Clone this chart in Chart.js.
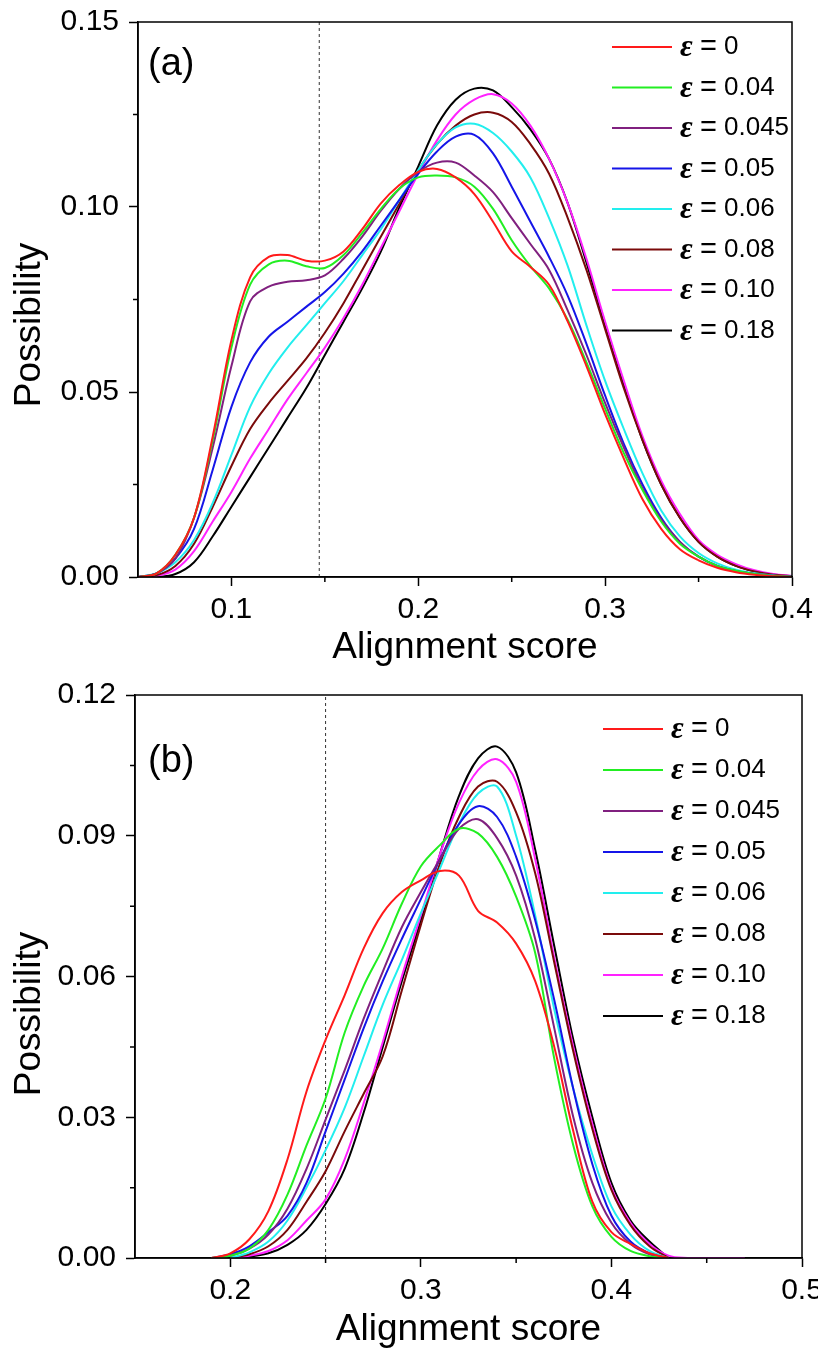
<!DOCTYPE html>
<html>
<head>
<meta charset="utf-8">
<script src="https://cdn.jsdelivr.net/npm/chart.js@4/dist/chart.umd.min.js"></script>
<style>
  html, body { margin: 0; padding: 0; background: #fff; }
  canvas { display: block; }
</style>
</head>
<body>
<canvas id="chartA" width="818" height="678"></canvas>
<canvas id="chartB" width="818" height="678"></canvas>
<script>
// ── data ──

const EPS_LABELS = ['0', '0.04', '0.045', '0.05', '0.06', '0.08', '0.10', '0.18'];
const COLORS = ['#ff1a1a', '#22ee22', '#80207f', '#1515e8', '#22eeee', '#7a0a0a', '#ff22ff', '#000000'];

// panel (a)
const A_X = [0.05, 0.06, 0.07, 0.08, 0.09, 0.10, 0.11, 0.12, 0.13, 0.14, 0.15, 0.16, 0.17, 0.18,
  0.19, 0.20, 0.21, 0.22, 0.23, 0.24, 0.25, 0.26, 0.27, 0.28, 0.29, 0.30, 0.31, 0.32, 0.33, 0.34,
  0.35, 0.36, 0.37, 0.38, 0.39, 0.40];
const A_E0    = [0, 0.001, 0.006, 0.016, 0.038, 0.064, 0.081, 0.0865, 0.087, 0.0855, 0.0855, 0.088, 0.094, 0.101, 0.106, 0.1095, 0.1103, 0.108, 0.1035, 0.096, 0.088, 0.0838, 0.079, 0.069, 0.057, 0.044, 0.032, 0.021, 0.013, 0.0075, 0.0045, 0.0025, 0.0013, 0.0006, 0.0002, 0];
const A_E004  = [0, 0.001, 0.006, 0.016, 0.037, 0.062, 0.079, 0.0845, 0.0855, 0.084, 0.0835, 0.087, 0.093, 0.0995, 0.105, 0.108, 0.1085, 0.108, 0.1055, 0.0995, 0.091, 0.084, 0.078, 0.0695, 0.058, 0.0455, 0.0335, 0.0235, 0.015, 0.009, 0.0055, 0.003, 0.0017, 0.0008, 0.0003, 0.0001];
const A_E0045 = [0, 0.001, 0.005, 0.016, 0.035, 0.057, 0.0745, 0.0785, 0.0798, 0.0802, 0.0815, 0.086, 0.092, 0.099, 0.105, 0.1095, 0.112, 0.112, 0.1085, 0.104, 0.097, 0.090, 0.083, 0.072, 0.060, 0.047, 0.035, 0.024, 0.0155, 0.0095, 0.0055, 0.003, 0.0016, 0.0008, 0.0003, 0.0001];
const A_E005  = [0, 0.001, 0.005, 0.013, 0.029, 0.046, 0.058, 0.065, 0.069, 0.073, 0.077, 0.082, 0.088, 0.095, 0.102, 0.109, 0.115, 0.119, 0.1195, 0.1145, 0.1055, 0.096, 0.0865, 0.076, 0.063, 0.049, 0.036, 0.025, 0.016, 0.0095, 0.0055, 0.003, 0.0016, 0.0008, 0.0003, 0.0001];
const A_E006  = [0, 0.001, 0.004, 0.010, 0.020, 0.033, 0.046, 0.055, 0.062, 0.068, 0.074, 0.080, 0.087, 0.094, 0.102, 0.110, 0.117, 0.1215, 0.1225, 0.120, 0.115, 0.108, 0.097, 0.084, 0.068, 0.053, 0.040, 0.028, 0.018, 0.011, 0.0065, 0.0037, 0.002, 0.001, 0.0004, 0.0001];
const A_E008  = [0, 0.0005, 0.003, 0.009, 0.019, 0.030, 0.040, 0.047, 0.053, 0.059, 0.066, 0.074, 0.083, 0.092, 0.101, 0.110, 0.117, 0.122, 0.125, 0.1255, 0.123, 0.117, 0.109, 0.097, 0.083, 0.067, 0.051, 0.037, 0.025, 0.016, 0.0095, 0.0055, 0.003, 0.0015, 0.0006, 0.0002];
const A_E010  = [0, 0.0003, 0.002, 0.007, 0.015, 0.023, 0.032, 0.040, 0.048, 0.055, 0.062, 0.070, 0.079, 0.089, 0.099, 0.109, 0.118, 0.125, 0.129, 0.1305, 0.128, 0.122, 0.113, 0.101, 0.086, 0.069, 0.053, 0.038, 0.026, 0.017, 0.010, 0.006, 0.0035, 0.0018, 0.0008, 0.0003];
const A_E018  = [0, 0, 0.0008, 0.004, 0.011, 0.019, 0.027, 0.035, 0.043, 0.051, 0.060, 0.069, 0.078, 0.088, 0.100, 0.111, 0.122, 0.129, 0.132, 0.1315, 0.127, 0.121, 0.113, 0.101, 0.085, 0.068, 0.052, 0.037, 0.025, 0.016, 0.0095, 0.0055, 0.003, 0.0015, 0.0007, 0.0002];
const A_REF = 0.147;
const A_XTICKS = [0.1, 0.2, 0.3, 0.4];
const A_XMINOR = [0.15, 0.25, 0.35];
const A_YTICKS = [0, 0.05, 0.10, 0.15];
const A_YMINOR = [0.025, 0.075, 0.125];

// panel (b)
const B_X = [0.18, 0.19, 0.20, 0.21, 0.22, 0.23, 0.24, 0.25, 0.26, 0.27, 0.28, 0.29, 0.30, 0.31,
  0.32, 0.33, 0.34, 0.35, 0.36, 0.37, 0.38, 0.39, 0.40, 0.41, 0.42, 0.43, 0.44, 0.45, 0.46, 0.47, 0.48];
const B_E0    = [null, 0, 0.001, 0.004, 0.010, 0.021, 0.0355, 0.0465, 0.056, 0.066, 0.0735, 0.078, 0.0805, 0.0825, 0.0815, 0.074, 0.0715, 0.067, 0.059, 0.045, 0.027, 0.012, 0.0055, 0.003, 0.001, 0, null, null, null, null, null];
const B_E004  = [null, 0, 0.0005, 0.002, 0.006, 0.0135, 0.024, 0.034, 0.048, 0.058, 0.066, 0.0755, 0.0835, 0.088, 0.0915, 0.0905, 0.0855, 0.077, 0.065, 0.0425, 0.024, 0.011, 0.0045, 0.0015, 0.0004, 0, null, null, null, null, null];
const B_E0045 = [null, 0, 0.0005, 0.002, 0.005, 0.0105, 0.019, 0.0295, 0.040, 0.051, 0.061, 0.0705, 0.078, 0.085, 0.0915, 0.0935, 0.0895, 0.0815, 0.068, 0.049, 0.030, 0.016, 0.0075, 0.003, 0.0008, 0, null, null, null, null, null];
const B_E005  = [null, 0, 0.0008, 0.0025, 0.0055, 0.009, 0.016, 0.027, 0.038, 0.049, 0.059, 0.068, 0.0765, 0.085, 0.0925, 0.0963, 0.094, 0.0855, 0.072, 0.055, 0.036, 0.020, 0.009, 0.0035, 0.001, 0, null, null, null, null, null];
const B_E006  = [null, null, 0, 0.0012, 0.0035, 0.008, 0.015, 0.023, 0.032, 0.043, 0.054, 0.0635, 0.0735, 0.083, 0.0925, 0.099, 0.1005, 0.090, 0.073, 0.053, 0.036, 0.022, 0.011, 0.005, 0.0015, 0, null, null, null, null, null];
const B_E008  = [null, null, 0, 0.0008, 0.0025, 0.006, 0.012, 0.0185, 0.027, 0.035, 0.043, 0.057, 0.071, 0.084, 0.094, 0.1005, 0.1015, 0.095, 0.082, 0.063, 0.044, 0.0275, 0.0145, 0.007, 0.0025, 0, null, null, null, null, null];
const B_E010  = [null, null, 0, 0.0005, 0.0015, 0.0038, 0.008, 0.0125, 0.021, 0.033, 0.046, 0.060, 0.073, 0.086, 0.097, 0.104, 0.1063, 0.1015, 0.085, 0.064, 0.045, 0.0285, 0.015, 0.0075, 0.003, 0.0005, 0, 0, 0, 0, null];
const B_E018  = [null, null, 0, 0.0003, 0.001, 0.0028, 0.006, 0.0115, 0.019, 0.031, 0.045, 0.059, 0.072, 0.086, 0.0985, 0.1065, 0.109, 0.1035, 0.087, 0.0665, 0.0465, 0.030, 0.016, 0.008, 0.0035, 0, null, null, null, null, null];
const B_REF = 0.25;
const B_XTICKS = [0.2, 0.3, 0.4, 0.5];
const B_XMINOR = [0.25, 0.35, 0.45];
const B_YTICKS = [0, 0.03, 0.06, 0.09, 0.12];
const B_YMINOR = [0.015, 0.045, 0.075, 0.105];

// ── drawing ──

const SANS = '"Liberation Sans", Arial, sans-serif';
Chart.defaults.font.family = SANS;
Chart.defaults.color = '#000';

/** frame, minor ticks, y title, panel tag and in-plot legend */
const decorPlugin = {
  id: 'decor',
  afterDraw(chart, args, opts) {
    const ctx = chart.ctx;
    const { left, right, top, bottom } = chart.chartArea;
    const sx = chart.scales.x, sy = chart.scales.y;
    ctx.save();
    ctx.strokeStyle = '#000';
    ctx.lineWidth = 1.5;
    ctx.strokeRect(left, top, right - left, bottom - top);

    // minor ticks
    ctx.beginPath();
    opts.minorX.forEach(v => {
      const p = sx.getPixelForValue(v);
      ctx.moveTo(p, bottom); ctx.lineTo(p, bottom + 5);
    });
    opts.minorY.forEach(v => {
      const p = sy.getPixelForValue(v);
      ctx.moveTo(left, p); ctx.lineTo(left - 5, p);
    });
    ctx.stroke();

    ctx.fillStyle = '#000';
    ctx.textBaseline = 'middle';

    // y title (sits a bit below the axis centre in the original)
    ctx.save();
    ctx.translate(30, opts.yTitleY);
    ctx.rotate(-Math.PI / 2);
    ctx.textAlign = 'center';
    ctx.font = '37px ' + SANS;
    ctx.fillText('Possibility', 0, 0);
    ctx.restore();

    // (a) / (b)
    ctx.font = '38px ' + SANS;
    ctx.fillText(opts.tag, opts.tagX, opts.tagY);

    // legend
    EPS_LABELS.forEach((lab, i) => {
      const y = opts.legY + i * opts.legDy;
      const x = opts.legX;
      ctx.strokeStyle = COLORS[i];
      ctx.lineWidth = 2;
      ctx.beginPath(); ctx.moveTo(x, y); ctx.lineTo(x + 60, y); ctx.stroke();
      ctx.fillStyle = '#000';
      ctx.font = 'italic bold 31px "Liberation Serif", serif';
      ctx.fillText('ε', x + 68, y + 1);
      ctx.font = '29px ' + SANS;
      ctx.fillText('=', x + 88, y);
      ctx.font = '26px ' + SANS;
      ctx.fillText(lab, x + 112, y);
    });
    ctx.restore();
  }
};

function makeDatasets(xs, series, refX, yMax) {
  const ds = series.map((ys, i) => ({
    label: 'ε = ' + EPS_LABELS[i],
    data: xs.map((x, j) => ({ x, y: ys[j] })),
    borderColor: COLORS[i],
    borderWidth: 2,
    pointRadius: 0,
    tension: 0.35,
    fill: false
  }));
  // dotted reference line
  ds.push({
    label: 'ref',
    data: [{ x: refX, y: 0 }, { x: refX, y: yMax }],
    borderColor: '#333',
    borderWidth: 1,
    borderDash: [3, 3],
    pointRadius: 0
  });
  return ds;
}

function makeChart(id, cfg) {
  const tickFont = { size: 30, family: SANS };
  const titleFont = { size: 37, family: SANS };
  const grid = { display: true, drawOnChartArea: false, drawTicks: true, tickLength: 9, tickColor: '#000', tickWidth: 1.5 };
  const border = { display: true, color: '#000', width: 1.5 };

  return new Chart(document.getElementById(id), {
    type: 'line',
    data: { datasets: cfg.datasets },
    options: {
      responsive: false,
      animation: false,
      events: [],
      layout: { padding: cfg.padding },
      plugins: {
        legend: { display: false },
        tooltip: { enabled: false },
        decor: cfg.decor
      },
      scales: {
        x: {
          type: 'linear', min: cfg.xMin, max: cfg.xMax,
          afterBuildTicks: s => { s.ticks = cfg.xTicks.map(v => ({ value: v })); },
          afterFit: s => { s.height = cfg.xHeight; s.paddingLeft = 0; s.paddingRight = 0; },
          ticks: { font: tickFont, color: '#000', padding: 6, maxRotation: 0, autoSkip: false, callback: v => v.toFixed(1) },
          grid, border,
          title: { display: true, text: 'Alignment score', font: titleFont, color: '#000', padding: { top: 0, bottom: cfg.xTitlePad } }
        },
        y: {
          min: 0, max: cfg.yMax,
          afterBuildTicks: s => { s.ticks = cfg.yTicks.map(v => ({ value: v })); },
          afterFit: s => { s.width = cfg.yWidth; s.paddingTop = 0; s.paddingBottom = 0; },
          ticks: { font: tickFont, color: '#000', padding: 10, autoSkip: false, callback: v => v.toFixed(2) },
          grid, border
        }
      }
    },
    plugins: [decorPlugin]
  });
}

makeChart('chartA', {
  datasets: makeDatasets(A_X, [A_E0, A_E004, A_E0045, A_E005, A_E006, A_E008, A_E010, A_E018], A_REF, 0.15),
  padding: { top: 22, right: 26, left: 0, bottom: 0 },
  xMin: 0.05, xMax: 0.4, xTicks: A_XTICKS, xHeight: 101, xTitlePad: 8,
  yMax: 0.15, yTicks: A_YTICKS, yWidth: 138,
  decor: { minorX: A_XMINOR, minorY: A_YMINOR, yTitleY: 325, tag: '(a)', tagX: 148, tagY: 65, legX: 612, legY: 47, legDy: 40.5 }
});

makeChart('chartB', {
  datasets: makeDatasets(B_X, [B_E0, B_E004, B_E0045, B_E005, B_E006, B_E008, B_E010, B_E018], B_REF, 0.12),
  padding: { top: 17, right: 16, left: 0, bottom: 0 },
  xMin: 0.15, xMax: 0.5, xTicks: B_XTICKS, xHeight: 98, xTitlePad: 4,
  yMax: 0.12, yTicks: B_YTICKS, yWidth: 135,
  decor: { minorX: B_XMINOR, minorY: B_YMINOR, yTitleY: 336, tag: '(b)', tagX: 148, tagY: 84, legX: 603, legY: 51, legDy: 41 }
});
</script>
</body>
</html>
